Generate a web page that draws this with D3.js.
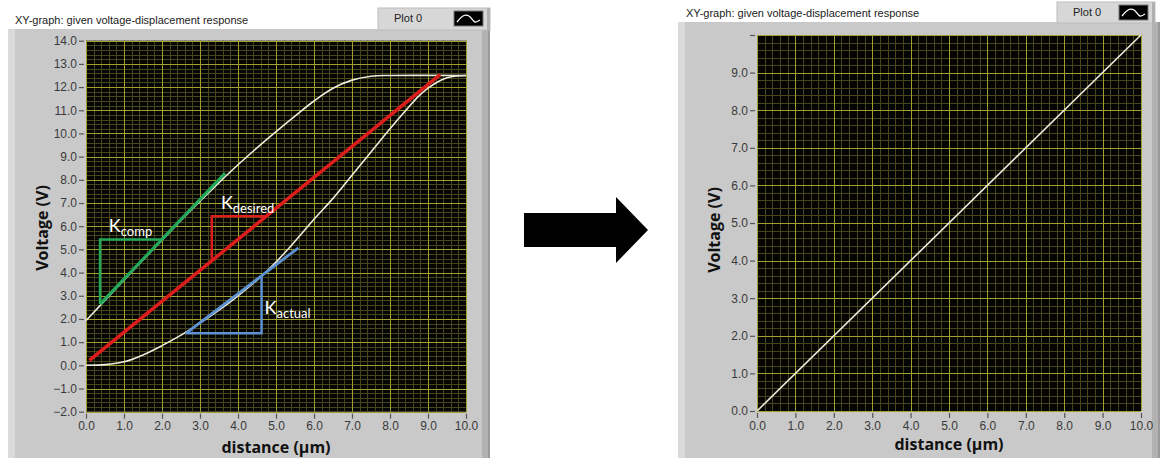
<!DOCTYPE html>
<html><head><meta charset="utf-8">
<script src="https://cdn.jsdelivr.net/npm/d3@7/dist/d3.min.js"></script>
<style>
html,body{margin:0;padding:0;background:#fff;}
svg{display:block;}
</style></head>
<body>
<svg id="c" width="1165" height="458"></svg>
<script>
// ---------- data ----------
const chartTitle = "XY-graph: given voltage-displacement response";
const legendLabel = "Plot 0";
const xAxisTitle = "distance (µm)";
const yAxisTitle = "Voltage (V)";

const leftXTicks = [0,1,2,3,4,5,6,7,8,9,10];
const leftYTicks = [-2,-1,0,1,2,3,4,5,6,7,8,9,10,11,12,13,14];
const rightXTicks = [0,1,2,3,4,5,6,7,8,9,10];
const rightYTicks = [0,1,2,3,4,5,6,7,8,9,10];
const rightYLabelled = [0,1,2,3,4,5,6,7,8,9];

// upper (loading) branch
const upperDist = [0,0.5,1,1.5,2,2.5,3,3.5,4,4.5,5,5.5,6,6.5,7,7.5,8,10];
const upperVolt = [1.93,2.8,3.67,4.54,5.4,6.25,7.08,7.88,8.65,9.38,10.08,10.75,11.4,11.95,12.3,12.47,12.5,12.5];
// lower (unloading) branch
const lowerDist = [0,0.5,1,1.5,2,2.5,3,3.5,4,4.62,5,5.5,6,6.5,7,7.5,8,8.5,8.75,9,9.25,9.5,9.75,10];
const lowerVolt = [0,0.03,0.15,0.45,0.85,1.3,1.82,2.38,3.0,3.85,4.45,5.35,6.3,7.2,8.2,9.2,10.2,11.15,11.6,11.95,12.22,12.4,12.48,12.5];

// stiffness lines and slope triangles
const desiredLine = [[0.09,0.21],[9.32,12.54]];
const desiredTri  = [[4.75,6.43],[3.31,6.43],[3.31,4.6]];
const compLine    = [[0.37,2.64],[3.66,8.29]];
const compTri     = [[1.99,5.43],[0.37,5.43],[0.37,2.64]];
const actualLine  = [[2.63,1.38],[5.59,5.07]];
const actualTri   = [[2.63,1.38],[4.62,1.38],[4.62,3.85]];
const kLabels = [
  {sub:"comp",    x:0.6,  y:5.75, color:"#ffffff"},
  {sub:"desired", x:3.55, y:6.75, color:"#ffffff"},
  {sub:"actual",  x:4.7,  y:2.2,  color:"#ffffff"}
];

// right chart line
const rightDist = [0,10];
const rightVolt = [0,10];

// ---------- drawing ----------
const svg = d3.select("#c");
const fmt = d3.format(".1f");

function panel(o){
  const g = svg.append("g");
  // frame
  g.append("rect").attr("x",o.fx).attr("y",o.fy).attr("width",o.fw).attr("height",458-o.fy).attr("fill","#c9c9c9");
  g.append("rect").attr("x",o.fx).attr("y",o.fy).attr("width",7).attr("height",458-o.fy).attr("fill","#dadada");
  g.append("rect").attr("x",o.fx+o.fw-8).attr("y",o.fy).attr("width",8).attr("height",458-o.fy).attr("fill","#b2b2b2");
  g.append("rect").attr("x",o.fx+o.fw-2).attr("y",o.fy).attr("width",2).attr("height",458-o.fy).attr("fill","#9a9a9a");
  // title
  g.append("text").attr("x",o.tx).attr("y",o.ty).attr("font-family","Liberation Sans, Arial, sans-serif")
    .attr("font-size",11).attr("fill","#222").text(chartTitle);
  // legend box
  g.append("rect").attr("x",o.lx).attr("y",o.ly).attr("width",o.lw).attr("height",o.fy-o.ly+1)
    .attr("fill","#d7d7d7").attr("stroke","#bdbdbd").attr("stroke-width",1);
  g.append("rect").attr("x",o.lx+o.lw-3).attr("y",o.ly).attr("width",3).attr("height",o.fy-o.ly+1).attr("fill","#b0b0b0");
  g.append("text").attr("x",o.lx+16).attr("y",o.ly+14).attr("font-family","Liberation Sans, Arial, sans-serif")
    .attr("font-size",11).attr("fill","#222").text(legendLabel);
  const sx = o.lx+o.lw-36, sy = o.ly+3;
  g.append("rect").attr("x",sx).attr("y",sy).attr("width",29).attr("height",15).attr("fill","#000").attr("stroke","#777");
  g.append("path").attr("d",d3.line().curve(d3.curveCatmullRom)([[sx+3,sy+11],[sx+10,sy+4.5],[sx+15,sy+5],[sx+21,sy+11],[sx+26,sy+9]]))
    .attr("fill","none").attr("stroke","#fff").attr("stroke-width",1.3);

  const x = d3.scaleLinear().domain(o.xd).range([o.px0,o.px1]);
  const y = d3.scaleLinear().domain(o.yd).range([o.py0,o.py1]);
  // plot bg
  g.append("rect").attr("x",o.px0).attr("y",o.py1).attr("width",o.px1-o.px0).attr("height",o.py0-o.py1).attr("fill","#050503");
  const grid = g.append("g");
  const minorX = d3.range(o.xd[0], o.xd[1]+1e-9, 0.2);
  const minorY = d3.range(o.yd[0], o.yd[1]+1e-9, 0.2);
  grid.selectAll(".mx").data(minorX).join("line").attr("x1",d=>Math.round(x(d))+0.5).attr("x2",d=>Math.round(x(d))+0.5)
    .attr("y1",o.py1).attr("y2",o.py0).attr("stroke","#46461a").attr("stroke-width",1);
  grid.selectAll(".my").data(minorY).join("line").attr("y1",d=>Math.round(y(d))+0.5).attr("y2",d=>Math.round(y(d))+0.5)
    .attr("x1",o.px0).attr("x2",o.px1).attr("stroke","#46461a").attr("stroke-width",1);
  grid.selectAll(".Mx").data(o.xt).join("line").attr("x1",d=>Math.round(x(d))+0.5).attr("x2",d=>Math.round(x(d))+0.5)
    .attr("y1",o.py1).attr("y2",o.py0).attr("stroke","#a0a02e").attr("stroke-width",1);
  grid.selectAll(".My").data(o.yt).join("line").attr("y1",d=>Math.round(y(d))+0.5).attr("y2",d=>Math.round(y(d))+0.5)
    .attr("x1",o.px0).attr("x2",o.px1).attr("stroke","#a0a02e").attr("stroke-width",1);

  // axes
  const ax = g.append("g").attr("transform",`translate(0,${o.py0+2})`)
    .call(d3.axisBottom(x).tickValues(o.xt).tickFormat(fmt).tickSize(5).tickPadding(3));
  const ay = g.append("g").attr("transform",`translate(${o.px0-2},0)`)
    .call(d3.axisLeft(y).tickValues(o.yt).tickFormat(d=>o.ylab.includes(d)?fmt(d):"").tickSize(5).tickPadding(2));
  [ax,ay].forEach(a=>{
    a.select(".domain").remove();
    a.selectAll("line").attr("stroke","#555").attr("stroke-width",1.2);
    a.selectAll("text").attr("font-family","Liberation Sans, Arial, sans-serif").attr("font-size",12).attr("fill","#3a3a3a");
  });
  g.append("text").attr("x",(o.px0+o.px1)/2).attr("y",o.xty).attr("text-anchor","middle")
    .attr("font-family","Open Sans, sans-serif").attr("font-weight","bold").attr("font-size",16).attr("fill","#111").text(xAxisTitle);
  g.append("text").attr("transform",`translate(${o.ytx},${o.yty}) rotate(-90)`).attr("text-anchor","middle")
    .attr("font-family","Open Sans, sans-serif").attr("font-weight","bold").attr("font-size",16).attr("fill","#111").text(yAxisTitle);

  const clip = "clip"+o.id;
  svg.append("clipPath").attr("id",clip).append("rect").attr("x",o.px0).attr("y",o.py1).attr("width",o.px1-o.px0).attr("height",o.py0-o.py1);
  const plot = g.append("g").attr("clip-path",`url(#${clip})`);
  return {g,plot,x,y};
}

// LEFT
const L = panel({id:"L",fx:8,fy:29,fw:482,tx:15,ty:24,lx:378,ly:8,lw:112,
  xd:[0,10],yd:[-2,14],px0:86,px1:466,py0:411.7,py1:40.7,xt:leftXTicks,yt:leftYTicks,ylab:leftYTicks,
  xty:453,ytx:48,yty:228});
{
  const {plot,x,y} = L;
  const line = d3.line().x(d=>x(d[0])).y(d=>y(d[1]));
  const curve = d3.line().x(d=>x(d[0])).y(d=>y(d[1])).curve(d3.curveCatmullRom.alpha(0.5));
  plot.append("path").attr("d",curve(d3.zip(upperDist,upperVolt))).attr("fill","none").attr("stroke","#ecebdc").attr("stroke-width",1.6);
  plot.append("path").attr("d",curve(d3.zip(lowerDist,lowerVolt))).attr("fill","none").attr("stroke","#ecebdc").attr("stroke-width",1.6);
  plot.append("path").attr("d",line(compLine)).attr("fill","none").attr("stroke","#22a858").attr("stroke-width",3);
  plot.append("path").attr("d",line(compTri)).attr("fill","none").attr("stroke","#22a858").attr("stroke-width",2.5);
  plot.append("path").attr("d",line(desiredLine)).attr("fill","none").attr("stroke","#dd1c1c").attr("stroke-width",3.5);
  plot.append("path").attr("d",line(desiredTri)).attr("fill","none").attr("stroke","#dd1c1c").attr("stroke-width",2.5);
  plot.append("path").attr("d",line(actualLine)).attr("fill","none").attr("stroke","#5f92d2").attr("stroke-width",2.8);
  plot.append("path").attr("d",line(actualTri)).attr("fill","none").attr("stroke","#5f92d2").attr("stroke-width",2.5);
  kLabels.forEach(k=>{
    const t = plot.append("text").attr("x",x(k.x)).attr("y",y(k.y)).attr("font-family","Lato, Open Sans, sans-serif")
      .attr("fill",k.color).attr("font-size",18);
    t.append("tspan").text("K");
    t.append("tspan").attr("font-size",13).attr("dy",4).text(k.sub);
  });
}

// RIGHT
const R = panel({id:"R",fx:678,fy:22,fw:482,tx:686,ty:17,lx:1057,ly:2,lw:98,
  xd:[0,10],yd:[0,10],px0:757,px1:1141,py0:411,py1:35,xt:rightXTicks,yt:rightYTicks,ylab:rightYLabelled,
  xty:450,ytx:720,yty:230});
{
  const {plot,x,y} = R;
  const line = d3.line().x(d=>x(d[0])).y(d=>y(d[1]));
  plot.append("path").attr("d",line(d3.zip(rightDist,rightVolt))).attr("fill","none").attr("stroke","#ecebdc").attr("stroke-width",1.6);
}

// arrow between the panels
svg.append("path").attr("d","M524,213 L616,213 L616,197 L648,230 L616,263 L616,247 L524,247 Z").attr("fill","#000");
</script>
</body></html>
